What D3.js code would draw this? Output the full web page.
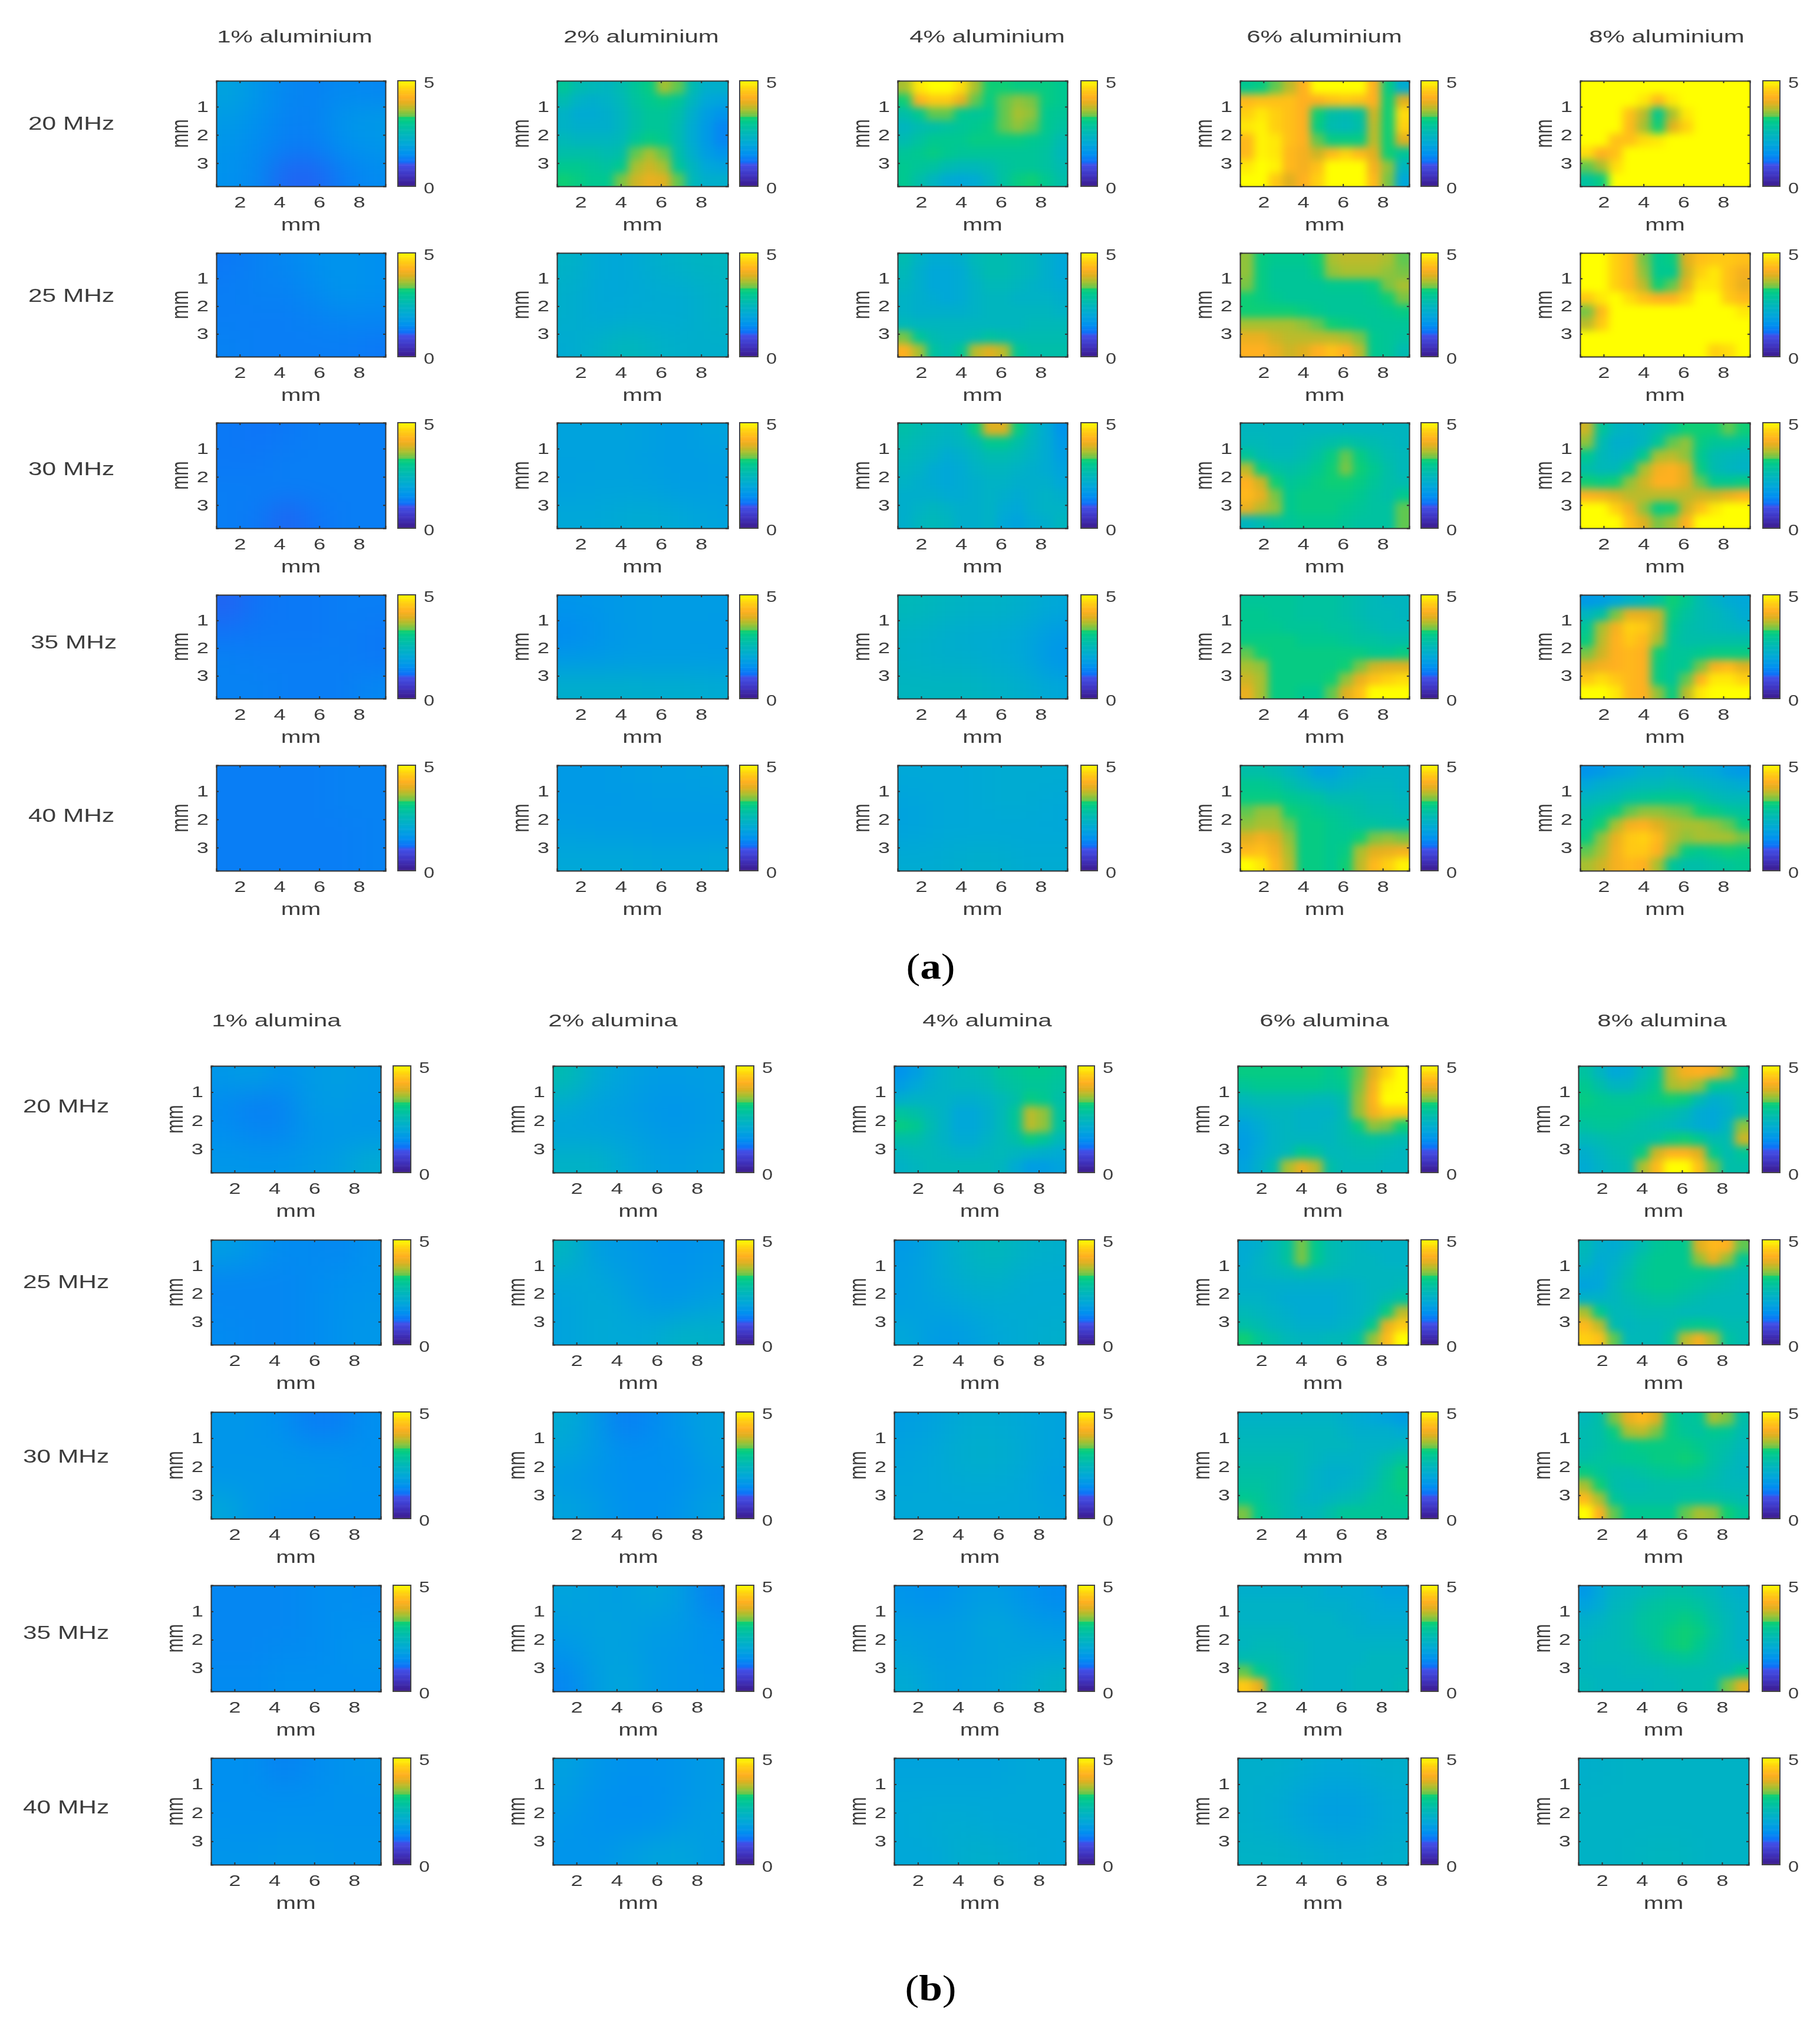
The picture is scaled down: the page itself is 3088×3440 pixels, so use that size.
<!DOCTYPE html>
<html>
<head>
<meta charset="utf-8">
<style>
  body { margin: 0; background: #fff; }
  text { font-family: "Liberation Sans", Arial, sans-serif; fill: #3c3c3c; }
</style>
<script src="https://cdn.jsdelivr.net/npm/d3@7"></script>
</head>
<body>
<div id="chart"></div>
<script>
// labels
var frequencies = ["20 MHz", "25 MHz", "30 MHz", "35 MHz", "40 MHz"];
var aluminiumTitles = ["1% aluminium", "2% aluminium", "4% aluminium", "6% aluminium", "8% aluminium"];
var aluminaTitles = ["1% alumina", "2% alumina", "4% alumina", "6% alumina", "8% alumina"];
var xTicks = [2, 4, 6, 8];
var yTicks = [1, 2, 3];
var barTicks = [0, 5];

// colour bar stops, values 0-5
var colourStops = [0, 0.5, 1.0, 1.15, 1.5, 2.0, 2.5, 3.0, 3.25, 3.3, 3.6, 3.9, 4.2, 4.6, 5];
var colourValues = ["#3b1a8c", "#3f33c0", "#4050e8", "#1070f8", "#0090f0", "#00a8d8", "#00b8b8", "#00c890",
  "#10d070", "#60c850", "#a8c030", "#e0b020", "#ffb020", "#ffd010", "#ffff00"];

// ---- aluminium ----
var al1_20 = [[1.9,1.6,1.4,1.35,1.45,1.4],[1.7,1.5,1.35,1.35,1.6,1.7],[1.6,1.45,1.3,1.3,1.5,1.6],[1.55,1.4,1.1,1.1,1.3,1.45]];
var al1_25 = [[1.25,1.35,1.4,1.5,1.6,1.5],[1.3,1.35,1.35,1.45,1.6,1.5],[1.3,1.3,1.3,1.35,1.4,1.4],[1.35,1.3,1.3,1.3,1.3,1.25]];
var al1_30 = [[1.25,1.2,1.25,1.3,1.3,1.3],[1.25,1.25,1.3,1.3,1.3,1.3],[1.3,1.3,1.3,1.3,1.3,1.3],[1.3,1.25,1.1,1.2,1.3,1.3]];
var al1_35 = [[1.1,1.2,1.25,1.25,1.3,1.3],[1.2,1.25,1.25,1.25,1.3,1.25],[1.35,1.3,1.3,1.3,1.3,1.25],[1.35,1.35,1.3,1.3,1.3,1.4]];
var al1_40 = [[1.3,1.3,1.3,1.3,1.35,1.35],[1.3,1.3,1.3,1.3,1.35,1.35],[1.3,1.3,1.3,1.3,1.3,1.35],[1.3,1.3,1.3,1.3,1.3,1.35]];

var al2_20 = [
  [2.9,2.6,2.5,2.4,2.6,2.9,3.1,3.6,3.3,2.6,2.2,2.2],
  [2.6,2.3,2.2,2.3,2.5,2.8,3.0,3.1,2.9,2.4,2.0,1.9],
  [2.3,2.1,2.1,2.2,2.4,2.7,2.9,2.9,2.7,2.2,1.8,1.6],
  [2.3,2.2,2.2,2.2,2.4,2.7,2.9,2.9,2.6,2.1,1.7,1.4],
  [2.5,2.4,2.4,2.4,2.5,2.9,3.1,3.0,2.6,2.1,1.7,1.4],
  [2.7,2.7,2.7,2.6,2.7,3.3,3.6,3.3,2.7,2.2,1.8,1.6],
  [3.0,3.0,2.9,2.8,3.0,3.6,3.8,3.6,2.9,2.4,2.0,1.9],
  [3.2,3.1,3.0,3.0,3.4,3.8,4.0,3.9,3.3,2.5,2.2,2.2]];
var al2_25 = [[2.3,2.0,2.0,2.2,2.3,2.4],[2.2,2.0,2.0,2.1,2.1,2.3],[2.2,2.0,2.1,2.1,2.1,2.3],[2.1,2.3,2.5,2.3,2.2,2.2]];
var al2_30 = [[1.9,1.9,1.9,1.8,1.75,1.9],[1.85,1.85,1.85,1.8,1.75,1.8],[1.85,1.9,1.9,1.85,1.75,1.8],[2.0,2.0,2.1,2.1,2.0,1.9]];
var al2_35 = [[1.6,1.65,1.7,1.75,1.75,1.75],[1.45,1.6,1.7,1.75,1.75,1.7],[1.7,1.7,1.75,1.75,1.75,1.75],[2.2,2.2,2.2,2.15,2.15,2.1]];
var al2_40 = [[1.7,1.7,1.75,1.8,1.8,1.85],[1.7,1.7,1.7,1.75,1.75,1.75],[1.8,1.75,1.75,1.7,1.7,1.7],[2.0,2.0,2.0,1.95,1.95,2.0]];

var al4_20 = [
  [3.6,4.8,5,5,4.7,3.6,3.2,3.2,3.1,3.1,3.1,3.0],
  [3.2,4.2,4.5,4.5,4.0,3.3,3.1,3.3,3.5,3.4,3.1,3.0],
  [2.7,3.0,3.3,3.3,3.0,2.9,3.0,3.3,3.6,3.5,3.0,2.9],
  [2.4,2.6,2.7,2.8,2.9,3.0,3.1,3.3,3.5,3.3,3.0,2.8],
  [2.6,2.8,3.0,3.0,3.0,3.1,3.1,3.1,3.1,3.0,2.9,2.6],
  [2.9,3.0,3.1,3.0,2.9,2.9,2.9,2.9,2.9,2.9,2.8,2.5],
  [3.0,2.9,2.8,2.6,2.5,2.5,2.6,2.8,2.9,2.9,2.8,2.6],
  [3.0,2.7,2.4,2.1,2.0,2.1,2.4,2.8,3.1,3.2,3.0,2.7]];
var al4_25 = [
  [2.6,2.3,2.1,2.1,2.2,2.5,2.6,2.6,2.5,2.4,2.2,2.0],
  [2.5,2.2,2.0,2.0,2.1,2.4,2.6,2.6,2.5,2.4,2.2,2.0],
  [2.4,2.2,2.0,2.0,2.1,2.3,2.5,2.5,2.4,2.3,2.2,2.1],
  [2.3,2.2,2.1,2.0,2.1,2.3,2.4,2.4,2.3,2.3,2.3,2.2],
  [2.3,2.2,2.2,2.2,2.2,2.3,2.4,2.4,2.4,2.4,2.4,2.3],
  [2.5,2.4,2.4,2.4,2.4,2.4,2.4,2.4,2.4,2.5,2.5,2.5],
  [3.4,2.9,2.6,2.5,2.5,2.6,2.8,2.7,2.6,2.6,2.6,2.6],
  [4.2,3.6,2.8,2.6,2.9,3.7,3.9,3.7,2.9,2.7,2.7,2.7]];
var al4_30 = [
  [2.7,2.6,2.5,2.4,2.5,3.1,3.9,3.9,3.1,2.5,2.1,1.6],
  [2.6,2.5,2.4,2.3,2.4,2.6,3.0,3.0,2.7,2.4,2.1,1.7],
  [2.5,2.4,2.3,2.1,2.2,2.4,2.6,2.6,2.5,2.3,2.1,1.8],
  [2.4,2.3,2.1,2.0,2.1,2.3,2.4,2.4,2.3,2.2,2.1,1.9],
  [2.3,2.2,2.1,2.0,2.1,2.2,2.3,2.3,2.2,2.2,2.2,2.0],
  [2.2,2.2,2.2,2.1,2.1,2.2,2.3,2.2,2.1,2.2,2.3,2.2],
  [2.2,2.3,2.4,2.3,2.2,2.2,2.3,2.1,2.0,2.2,2.3,2.3],
  [2.2,2.4,2.5,2.4,2.2,2.2,2.3,2.0,1.9,2.1,2.2,2.4]];
var al4_35 = [[2.5,2.4,2.3,2.3,2.2,2.0],[2.3,2.2,2.1,2.1,2.0,1.7],[2.3,2.2,2.2,2.1,2.0,1.6],[2.4,2.4,2.4,2.3,2.2,2.0]];
var al4_40 = [[2.0,2.0,2.0,2.1,2.1,2.1],[1.9,2.0,2.0,2.1,2.1,2.0],[1.9,2.0,2.0,2.0,2.0,2.0],[2.1,2.1,2.2,2.2,2.1,2.1]];

var al6_20 = [
  [3.0,3.1,3.3,3.7,4.2,5,5,5,5,4.2,3.1,2.1],
  [4.3,4.4,4.4,4.4,4.2,4.2,4.4,4.5,4.4,4.2,3.2,3.9],
  [4.6,4.8,4.6,4.4,4.2,3.2,2.7,2.6,2.8,3.8,3.2,4.7],
  [4.8,4.9,4.6,4.4,4.2,3.1,2.6,2.5,2.7,3.7,3.2,4.6],
  [4.3,4.9,4.8,4.4,4.2,3.3,3.1,3.1,3.1,3.7,3.2,3.9],
  [4.3,4.9,4.8,4.3,4.1,3.8,4.3,4.6,4.3,3.9,3.2,2.9],
  [4.8,5,4.9,4.3,4.1,4.4,5,5,5,4.1,3.5,2.4],
  [5,5,4.5,3.9,4.2,4.6,5,5,5,4.3,3.4,2.0]];
var al6_25 = [
  [3.5,3.1,3.0,3.0,3.0,3.2,3.6,3.7,3.7,3.7,3.6,3.3],
  [3.5,3.1,2.9,2.9,2.9,3.1,3.5,3.6,3.6,3.6,3.5,3.4],
  [3.4,3.1,2.9,2.9,2.9,2.9,3.0,3.0,3.0,3.1,3.4,3.6],
  [3.2,3.1,3.0,2.9,2.9,2.9,2.9,2.9,2.9,3.0,3.2,3.4],
  [3.2,3.2,3.2,3.2,3.1,3.0,2.9,2.9,2.9,2.9,3.0,3.1],
  [3.6,3.6,3.6,3.6,3.5,3.3,3.2,3.1,3.0,2.9,2.9,2.9],
  [4.0,4.0,3.8,3.7,3.7,3.7,3.7,3.6,3.4,3.0,2.9,2.8],
  [4.2,4.2,4.0,3.8,3.9,4.2,4.4,4.2,3.7,3.0,2.9,2.6]];
var al6_30 = [
  [2.4,2.4,2.4,2.4,2.4,2.4,2.4,2.4,2.4,2.4,2.4,2.4],
  [2.5,2.5,2.4,2.4,2.5,2.6,2.7,2.8,2.7,2.6,2.5,2.4],
  [2.9,2.6,2.5,2.5,2.6,2.8,3.1,3.3,3.1,2.8,2.6,2.5],
  [3.7,3.1,2.8,2.7,2.8,3.0,3.2,3.4,3.2,3.0,2.7,2.5],
  [4.2,3.8,3.2,2.9,3.0,3.1,3.2,3.2,3.1,2.9,2.7,2.6],
  [4.3,4.0,3.4,3.0,3.1,3.1,3.1,3.1,3.0,2.8,2.7,3.0],
  [4.0,3.7,3.5,3.0,3.1,3.1,3.1,3.0,2.9,2.8,2.8,3.3],
  [2.4,2.6,2.8,2.9,3.0,3.0,3.0,2.9,2.8,2.8,2.8,3.3]];
var al6_35 = [
  [2.9,2.9,2.9,2.9,2.8,2.8,2.8,2.7,2.6,2.5,2.4,2.4],
  [3.0,3.0,2.9,2.9,2.8,2.8,2.8,2.7,2.6,2.5,2.5,2.4],
  [3.0,3.0,3.0,2.9,2.9,2.9,2.8,2.8,2.7,2.6,2.5,2.5],
  [3.1,3.1,3.1,3.1,3.0,3.0,3.0,2.9,2.8,2.8,2.7,2.7],
  [3.3,3.2,3.1,3.1,3.1,3.1,3.1,3.1,3.1,3.0,3.0,3.1],
  [3.6,3.5,3.1,3.1,3.1,3.1,3.1,3.2,3.4,3.8,3.9,3.9],
  [3.8,3.6,3.1,3.1,3.1,3.1,3.2,3.5,4.0,4.4,4.6,4.7],
  [4.0,3.6,3.1,3.1,3.0,3.0,3.3,3.9,4.4,5,5,5]];
var al6_40 = [
  [2.7,2.7,2.6,2.4,2.2,1.9,1.9,2.1,2.2,2.3,2.3,2.3],
  [3.0,3.0,2.9,2.7,2.5,2.3,2.2,2.3,2.4,2.4,2.4,2.3],
  [3.1,3.1,3.1,3.0,2.9,2.8,2.6,2.6,2.6,2.5,2.5,2.4],
  [3.3,3.5,3.5,3.2,3.1,3.0,2.9,2.8,2.7,2.6,2.6,2.5],
  [3.5,3.6,3.6,3.3,3.1,3.1,3.0,2.9,2.8,2.8,2.7,2.7],
  [3.9,4.1,3.9,3.5,3.1,3.1,3.0,3.0,3.2,3.4,3.5,3.4],
  [4.3,4.4,4.1,3.6,3.1,3.1,3.0,3.1,3.6,3.9,4.0,4.1],
  [5,4.8,4.3,3.7,3.1,3.1,3.0,3.2,3.7,4.3,4.6,4.9]];

var al8_20 = [
  [5,5,5,5,5,5,5,5,5,5,5,5],
  [5,5,5,5,4.8,4.3,4.8,5,5,5,5,5],
  [5,5,5,4.4,3.7,3.0,3.6,4.8,5,5,5,5],
  [5,5,5,4.3,3.6,3.2,3.9,4.6,5,5,5,5],
  [5,5,4.4,4.4,4.7,4.8,5,5,5,5,5,5],
  [4.7,4.2,4.4,5,5,5,5,5,5,5,5,5],
  [3.3,3.6,4.7,5,5,5,5,5,5,5,5,5],
  [2.8,3.1,5,5,5,5,5,5,5,5,5,5]];
var al8_25 = [
  [5,5,4.6,4.3,3.4,3.0,3.1,3.9,4.4,4.5,4.5,4.4],
  [5,5,4.6,4.3,3.5,3.0,3.0,3.8,4.6,4.8,4.4,4.1],
  [5,5,4.6,4.3,3.7,3.2,3.3,4.0,4.8,4.8,4.4,4.0],
  [4.5,4.8,5,4.7,4.4,4.2,4.2,4.6,5,5,4.5,4.3],
  [3.4,4.3,5,5,5,5,5,5,5,5,5,4.8],
  [3.7,4.5,5,5,5,5,5,5,5,5,5,5],
  [5,5,5,5,5,5,5,5,5,5,5,5],
  [5,5,5,5,5,5,5,5,5,4.6,4.7,5]];
var al8_30 = [
  [3.8,2.9,2.4,2.3,2.4,2.6,2.9,3.2,3.2,3.2,3.3,3.2],
  [3.5,2.6,2.2,2.2,2.4,2.9,3.3,3.5,3.1,2.9,2.9,2.8],
  [3.0,2.5,2.3,2.4,3.0,3.6,3.7,3.5,3.0,2.6,2.5,2.4],
  [2.7,2.5,2.5,3.0,3.6,4.1,4.2,3.9,3.1,2.6,2.4,2.3],
  [3.2,3.1,3.2,3.5,3.8,4.2,4.2,3.9,3.3,3.0,3.0,3.1],
  [4.2,4.1,3.9,3.7,3.7,3.7,3.7,3.7,3.8,3.8,4.0,4.2],
  [5,5,4.6,4.1,3.5,3.1,3.2,3.8,4.4,4.8,5,5],
  [5,5,5,4.4,3.9,3.4,3.6,4.2,5,5,5,5]];
var al8_35 = [
  [1.7,1.8,2.0,2.3,2.5,2.8,3.2,3.0,2.6,2.3,2.1,2.0],
  [2.4,2.7,3.4,4.0,4.0,3.8,3.1,2.8,2.6,2.5,2.3,2.1],
  [2.9,3.6,4.1,4.6,4.5,3.8,3.0,2.7,2.6,2.5,2.4,2.3],
  [3.1,3.7,4.2,4.5,4.3,3.6,2.9,2.7,2.7,2.7,2.7,2.7],
  [3.4,3.8,4.2,4.3,4.2,3.2,2.9,2.9,3.0,3.1,3.1,3.1],
  [3.9,4.1,4.2,4.3,4.2,3.1,2.9,3.0,3.4,4.1,4.3,3.9],
  [4.5,4.7,4.5,4.3,4.2,3.1,2.9,3.3,4.2,4.8,4.8,4.6],
  [5,5,4.8,4.3,4.2,3.5,3.1,3.7,4.8,5,5,5]];
var al8_40 = [
  [1.6,1.7,1.9,2.0,2.2,2.2,2.3,2.2,2.1,2.0,1.8,1.7],
  [2.0,2.2,2.3,2.4,2.5,2.5,2.6,2.5,2.4,2.3,2.2,2.1],
  [2.4,2.5,2.6,2.8,2.9,3.0,3.0,3.0,2.8,2.6,2.5,2.5],
  [2.7,2.9,3.1,3.3,3.5,3.5,3.4,3.3,3.2,3.1,2.9,2.8],
  [2.9,3.2,3.6,4.1,4.2,3.9,3.7,3.6,3.6,3.5,3.3,3.1],
  [3.1,3.5,4.0,4.5,4.6,4.3,3.7,3.5,3.6,3.6,3.6,3.4],
  [3.3,3.6,4.1,4.5,4.5,4.2,3.5,3.1,3.0,3.1,3.2,3.1],
  [3.6,3.8,4.1,4.3,4.2,3.6,2.9,2.7,2.7,2.8,2.9,3.0]];

// ---- alumina ----
var alu1_20 = [[1.65,1.8,1.55,1.7,1.8,1.7],[1.45,1.3,1.35,1.7,1.75,1.65],[1.5,1.4,1.4,1.6,1.65,1.65],[1.65,1.6,1.6,1.7,1.8,2.1]];
var alu1_25 = [[1.8,1.6,1.45,1.45,1.4,1.55],[1.4,1.4,1.4,1.45,1.5,1.55],[1.4,1.4,1.4,1.45,1.55,1.6],[1.45,1.4,1.4,1.45,1.55,1.65]];
var alu1_30 = [[1.65,1.6,1.5,1.3,1.3,1.5],[1.6,1.6,1.6,1.55,1.55,1.5],[1.65,1.65,1.65,1.65,1.6,1.5],[1.95,1.65,1.55,1.5,1.5,1.5]];
var alu1_35 = [[1.4,1.4,1.4,1.45,1.5,1.45],[1.4,1.4,1.4,1.45,1.5,1.5],[1.4,1.4,1.45,1.45,1.5,1.6],[1.45,1.45,1.5,1.5,1.5,1.5]];
var alu1_40 = [[1.5,1.5,1.35,1.45,1.55,1.6],[1.5,1.5,1.5,1.5,1.55,1.55],[1.55,1.5,1.55,1.55,1.55,1.55],[1.6,1.6,1.65,1.65,1.6,1.6]];

var alu2_20 = [[2.6,2.1,1.9,1.75,1.75,1.8],[2.1,1.85,1.8,1.65,1.6,1.75],[1.9,1.9,1.85,1.75,1.65,1.8],[2.3,2.3,2.05,1.85,1.8,1.9]];
var alu2_25 = [[2.4,1.8,1.7,1.6,1.55,1.65],[2.0,2.0,1.8,1.65,1.6,1.7],[1.9,2.05,1.95,1.7,1.7,1.9],[1.9,2.05,2.0,2.05,2.3,2.25]];
var alu2_30 = [[2.1,1.7,1.3,1.45,1.65,1.85],[1.95,1.7,1.5,1.5,1.55,1.85],[1.7,1.6,1.5,1.5,1.5,1.7],[1.9,1.75,1.55,1.5,1.6,1.85]];
var alu2_35 = [[1.9,1.85,1.8,1.95,1.8,1.35],[1.8,1.85,1.85,1.75,1.7,1.55],[1.6,1.85,1.85,1.7,1.65,1.55],[1.4,1.8,1.95,1.7,1.65,1.6]];
var alu2_40 = [[1.85,1.65,1.55,1.55,1.6,1.75],[1.75,1.55,1.5,1.5,1.6,1.75],[1.65,1.55,1.5,1.55,1.7,1.8],[1.6,1.6,1.75,1.9,1.95,1.75]];

var alu4_20 = [
  [1.6,1.8,2.1,2.3,2.4,2.5,2.6,2.8,2.9,3.0,3.0,2.9],
  [1.8,2.0,2.2,2.3,2.4,2.4,2.5,2.7,2.8,2.9,2.9,2.8],
  [2.2,2.3,2.3,2.3,2.2,2.2,2.3,2.5,2.7,3.1,3.0,2.7],
  [2.8,2.7,2.5,2.3,2.0,2.0,2.2,2.5,2.9,3.7,3.5,2.8],
  [3.1,3.0,2.6,2.3,2.0,2.0,2.2,2.5,2.9,3.7,3.5,2.8],
  [2.7,2.7,2.5,2.3,2.1,2.1,2.3,2.5,2.7,3.1,2.9,2.5],
  [2.4,2.5,2.5,2.4,2.3,2.3,2.4,2.5,2.4,2.3,2.2,2.1],
  [2.3,2.4,2.5,2.5,2.5,2.5,2.5,2.4,2.1,1.8,1.8,1.9]];
var alu4_25 = [[1.7,2.0,2.3,2.5,2.3,2.2],[1.8,2.0,2.2,2.3,2.1,2.1],[1.8,1.9,2.0,2.1,2.1,2.1],[2.0,1.7,1.8,2.0,2.1,2.2]];
var alu4_30 = [[1.8,1.9,2.1,2.1,2.0,1.9],[1.9,2.0,2.2,2.2,2.1,1.9],[1.95,2.0,2.1,2.1,2.0,1.8],[2.0,2.0,2.0,2.0,2.0,1.9]];
var alu4_35 = [[1.6,1.5,1.7,1.8,1.6,1.45],[1.8,1.75,1.8,2.0,1.8,1.7],[1.9,1.75,1.8,1.9,1.9,1.9],[2.1,1.85,1.85,1.95,2.05,2.3]];
var alu4_40 = [[1.9,1.9,1.9,1.9,2.0,2.0],[2.0,2.0,2.0,2.0,2.0,2.0],[2.0,2.1,2.1,2.0,2.0,2.0],[2.0,2.0,2.2,2.2,2.1,2.0]];

var alu6_20 = [
  [3.1,3.1,3.1,3.1,3.1,3.1,3.0,3.1,3.3,3.9,4.6,5],
  [2.9,3.0,3.0,3.0,3.0,3.0,2.9,3.0,3.4,4.1,4.9,5],
  [2.5,2.6,2.6,2.6,2.6,2.5,2.5,2.7,3.5,4.2,5,5],
  [2.2,2.3,2.4,2.4,2.3,2.3,2.3,2.6,3.5,4.1,4.5,4.5],
  [1.9,2.1,2.3,2.4,2.3,2.3,2.4,2.6,3.1,3.5,3.4,3.2],
  [1.8,2.0,2.3,2.4,2.4,2.4,2.4,2.6,2.7,2.8,2.7,2.6],
  [1.8,2.1,2.3,2.5,3.0,2.8,2.5,2.5,2.6,2.6,2.5,2.4],
  [1.9,2.2,2.6,3.6,4.0,3.7,2.7,2.5,2.5,2.5,2.4,2.4]];
var alu6_25 = [
  [2.1,2.2,2.5,2.8,3.4,3.0,2.6,2.5,2.4,2.3,2.3,2.3],
  [2.1,2.3,2.5,2.8,3.4,3.0,2.6,2.5,2.4,2.4,2.3,2.3],
  [2.2,2.3,2.4,2.5,2.6,2.5,2.5,2.4,2.4,2.4,2.4,2.4],
  [2.2,2.2,2.2,2.2,2.2,2.2,2.2,2.2,2.3,2.4,2.4,2.5],
  [2.3,2.3,2.2,2.1,2.1,2.1,2.1,2.2,2.3,2.4,2.6,2.8],
  [2.5,2.4,2.3,2.2,2.1,2.1,2.1,2.2,2.3,2.5,3.1,3.7],
  [2.7,2.6,2.4,2.3,2.2,2.2,2.2,2.3,2.4,3.0,4.0,4.5],
  [3.2,2.9,2.7,2.5,2.4,2.4,2.5,2.5,2.8,3.5,4.3,5]];
var alu6_30 = [
  [2.3,2.3,2.3,2.3,2.3,2.3,2.3,2.2,2.1,2.0,1.9,1.8],
  [2.4,2.4,2.4,2.4,2.4,2.4,2.4,2.3,2.2,2.2,2.2,2.1],
  [2.5,2.5,2.5,2.5,2.5,2.4,2.4,2.4,2.3,2.3,2.3,2.4],
  [2.6,2.6,2.6,2.6,2.5,2.4,2.3,2.3,2.3,2.4,2.6,2.8],
  [2.7,2.7,2.7,2.6,2.5,2.3,2.2,2.2,2.3,2.5,2.8,3.1],
  [2.8,2.8,2.7,2.6,2.5,2.3,2.2,2.3,2.4,2.6,2.9,3.1],
  [3.0,2.9,2.7,2.6,2.4,2.3,2.4,2.5,2.6,2.8,2.9,3.0],
  [3.4,3.0,2.8,2.6,2.5,2.5,2.7,2.9,2.9,2.9,2.9,2.9]];
var alu6_35 = [
  [2.2,2.2,2.2,2.2,2.2,2.2,2.1,2.1,2.1,2.0,1.9,1.9],
  [2.3,2.3,2.3,2.3,2.3,2.2,2.2,2.2,2.1,2.1,2.0,2.0],
  [2.3,2.3,2.3,2.3,2.3,2.3,2.3,2.2,2.2,2.1,2.1,2.1],
  [2.4,2.4,2.4,2.4,2.3,2.3,2.3,2.3,2.2,2.2,2.2,2.2],
  [2.4,2.5,2.5,2.4,2.4,2.3,2.3,2.3,2.3,2.3,2.3,2.3],
  [2.6,2.6,2.6,2.5,2.4,2.3,2.3,2.3,2.3,2.4,2.4,2.4],
  [3.3,3.0,2.7,2.5,2.4,2.3,2.3,2.3,2.4,2.4,2.4,2.4],
  [4.5,4.0,2.9,2.6,2.4,2.3,2.3,2.3,2.4,2.4,2.4,2.5]];
var alu6_40 = [[2.2,2.2,2.1,2.0,2.1,2.2],[2.2,2.1,1.9,1.8,1.9,2.1],[2.2,2.1,1.9,1.8,1.9,2.1],[2.3,2.3,2.2,2.1,2.1,2.2]];

var alu8_20 = [
  [2.8,2.4,2.0,2.1,2.5,2.8,3.7,4.1,4.2,4.1,3.6,3.0],
  [3.0,2.7,2.4,2.4,2.7,3.0,3.6,3.7,3.5,3.0,2.8,2.8],
  [3.1,3.0,2.9,2.9,3.0,3.1,3.2,3.1,2.6,2.2,2.3,2.6],
  [3.0,3.0,3.0,3.0,2.9,2.8,2.7,2.5,2.1,2.0,2.2,2.6],
  [2.8,2.9,2.9,2.8,2.7,2.6,2.5,2.3,2.1,2.0,2.4,3.5],
  [2.5,2.6,2.7,2.7,2.7,2.8,3.1,3.2,3.0,2.6,2.6,3.8],
  [2.2,2.4,2.6,2.7,3.1,3.8,4.2,4.2,3.9,3.0,2.6,2.9],
  [2.1,2.3,2.5,2.6,3.6,4.3,5,5,4.4,3.4,2.7,2.7]];
var alu8_25 = [
  [2.5,2.2,2.1,2.3,2.6,2.9,3.0,3.0,3.9,4.3,4.2,3.3],
  [2.4,2.1,2.2,2.5,2.8,3.0,3.0,3.0,3.5,4.0,3.5,2.9],
  [2.1,2.0,2.3,2.6,2.9,3.0,3.0,3.0,3.0,2.9,2.7,2.6],
  [1.9,2.0,2.4,2.7,2.9,3.0,3.0,2.9,2.8,2.7,2.6,2.5],
  [2.3,2.3,2.4,2.6,2.7,2.8,2.8,2.7,2.6,2.5,2.5,2.5],
  [3.6,3.0,2.5,2.5,2.6,2.6,2.6,2.5,2.5,2.5,2.5,2.5],
  [4.3,3.7,2.6,2.4,2.5,2.5,2.6,2.9,3.0,2.9,2.6,2.6],
  [4.6,4.4,3.3,2.5,2.5,2.5,2.8,3.7,4.1,3.6,2.8,2.6]];
var alu8_30 = [
  [2.5,2.7,3.4,4.0,4.3,3.9,3.1,2.8,2.9,3.6,3.4,2.7],
  [2.6,2.7,3.1,3.6,3.7,3.4,3.1,2.9,2.8,3.0,2.9,2.6],
  [2.6,2.7,2.9,3.0,3.1,3.1,3.1,3.1,3.0,2.8,2.7,2.5],
  [2.7,2.8,2.9,3.0,3.0,3.1,3.1,3.2,3.1,2.8,2.6,2.4],
  [3.1,2.9,2.7,2.7,2.8,2.9,3.0,3.0,2.9,2.7,2.5,2.4],
  [3.6,3.2,2.7,2.6,2.6,2.7,2.7,2.7,2.7,2.6,2.5,2.5],
  [4.3,3.6,2.9,2.7,2.7,2.7,2.7,2.8,2.8,2.8,2.7,2.6],
  [5,4.2,3.3,3.0,3.0,3.0,3.0,3.3,3.6,3.5,3.2,2.9]];
var alu8_35 = [
  [1.7,2.0,2.3,2.4,2.5,2.6,2.7,2.7,2.6,2.5,2.3,2.2],
  [1.9,2.1,2.4,2.5,2.7,2.8,2.9,2.9,2.8,2.6,2.4,2.3],
  [2.2,2.3,2.5,2.6,2.8,2.9,3.0,3.1,3.0,2.7,2.5,2.3],
  [2.3,2.4,2.5,2.6,2.8,2.9,3.1,3.2,3.1,2.8,2.5,2.3],
  [2.4,2.5,2.5,2.6,2.7,2.9,3.1,3.2,3.0,2.7,2.5,2.3],
  [2.4,2.5,2.5,2.5,2.6,2.7,2.8,2.9,2.8,2.6,2.5,2.4],
  [2.4,2.4,2.4,2.5,2.5,2.5,2.6,2.6,2.6,2.6,2.6,3.0],
  [2.5,2.4,2.4,2.4,2.4,2.5,2.5,2.6,2.6,2.7,3.4,3.9]];
var alu8_40 = [[2.2,2.3,2.3,2.3,2.3,2.3],[2.3,2.3,2.3,2.3,2.3,2.3],[2.3,2.3,2.3,2.3,2.3,2.3],[2.3,2.3,2.4,2.4,2.3,2.3]];

// rows of panels, one entry per concentration
var aluminiumPanels = [
  [al1_20, al2_20, al4_20, al6_20, al8_20],
  [al1_25, al2_25, al4_25, al6_25, al8_25],
  [al1_30, al2_30, al4_30, al6_30, al8_30],
  [al1_35, al2_35, al4_35, al6_35, al8_35],
  [al1_40, al2_40, al4_40, al6_40, al8_40]
];
var aluminaPanels = [
  [alu1_20, alu2_20, alu4_20, alu6_20, alu8_20],
  [alu1_25, alu2_25, alu4_25, alu6_25, alu8_25],
  [alu1_30, alu2_30, alu4_30, alu6_30, alu8_30],
  [alu1_35, alu2_35, alu4_35, alu6_35, alu8_35],
  [alu1_40, alu2_40, alu4_40, alu6_40, alu8_40]
];

var page = d3.select("#chart").append("svg")
  .attr("width", 3088)
  .attr("height", 3440);
page.append("rect").attr("width", 3088).attr("height", 3440).attr("fill", "#fff");

var defs = page.append("defs");
// the source is a resampled bitmap, everything in it is a little soft
defs.append("filter").attr("id", "figureSoft")
  .attr("filterUnits", "userSpaceOnUse")
  .attr("x", 0).attr("y", 0).attr("width", 3088).attr("height", 3440)
  .attr("color-interpolation-filters", "sRGB")
  .append("feGaussianBlur").attr("stdDeviation", 0.7);
var svg = page.append("g").attr("filter", "url(#figureSoft)");

var colour = d3.scaleLinear().domain(colourStops).range(colourValues).clamp(true);
var stretch = 1.4;  // the source figure is pulled wide, text too
var idCount = 0;

function placeText(parent, str, x, y, size, sx, rotate) {
  return parent.append("text")
    .attr("transform", `translate(${x},${y}) scale(${sx},1)` + (rotate ? " rotate(-90)" : ""))
    .attr("text-anchor", "middle")
    .attr("font-size", size)
    .text(str);
}

function drawPanel(values, x0, x1, y0, y1, bar0, bar1) {
  var g = svg.append("g");
  var rows = values.length;
  var cols = values[0].length;
  var xBand = d3.scaleBand().domain(d3.range(cols)).range([x0, x1]);
  var yBand = d3.scaleBand().domain(d3.range(rows)).range([y0, y1]);
  var xScale = d3.scaleLinear().domain([0.82, 9.33]).range([x0, x1]);
  var yScale = d3.scaleLinear().domain([0.08, 3.82]).range([y0, y1]);
  var whole = d3.format("d");

  // soften the cells, outer ones run past the frame so the blur has no white edge
  var id = idCount++;
  var share = cols > 6 ? 0.3 : 0.5;
  var bleed = 100;
  defs.append("clipPath").attr("id", "clip" + id)
    .append("rect").attr("x", x0).attr("y", y0).attr("width", x1 - x0).attr("height", y1 - y0);
  defs.append("filter").attr("id", "soft" + id)
    .attr("filterUnits", "userSpaceOnUse")
    .attr("x", x0 - bleed).attr("y", y0 - bleed)
    .attr("width", x1 - x0 + 2 * bleed).attr("height", y1 - y0 + 2 * bleed)
    .attr("color-interpolation-filters", "sRGB")
    .append("feGaussianBlur")
    .attr("stdDeviation", `${xBand.bandwidth() * share} ${yBand.bandwidth() * share}`);

  var cells = g.append("g").attr("clip-path", `url(#clip${id})`)
    .append("g").attr("filter", `url(#soft${id})`);
  values.forEach(function(row, i) {
    row.forEach(function(v, j) {
      var cx = xBand(j) - (j === 0 ? bleed : 0);
      var cy = yBand(i) - (i === 0 ? bleed : 0);
      var cw = xBand.bandwidth() + (j === 0 || j === cols - 1 ? bleed : 0) + 1;
      var ch = yBand.bandwidth() + (i === 0 || i === rows - 1 ? bleed : 0) + 1;
      cells.append("rect")
        .attr("x", cx).attr("y", cy).attr("width", cw).attr("height", ch)
        .attr("fill", colour(v));
    });
  });

  // axes, box on like the original
  var bottom = g.append("g").attr("transform", `translate(0,${y1})`)
    .call(d3.axisBottom(xScale).tickValues(xTicks).tickSize(-4).tickFormat(whole));
  var left = g.append("g").attr("transform", `translate(${x0},0)`)
    .call(d3.axisLeft(yScale).tickValues(yTicks).tickSize(-4).tickFormat(whole));
  g.append("g").attr("transform", `translate(0,${y0})`)
    .call(d3.axisTop(xScale).tickValues(xTicks).tickSize(-4).tickFormat(""));
  g.append("g").attr("transform", `translate(${x1},0)`)
    .call(d3.axisRight(yScale).tickValues(yTicks).tickSize(-4).tickFormat(""));
  g.selectAll(".domain").attr("stroke", "#333").attr("stroke-width", 2);
  g.selectAll(".tick line").attr("stroke", "#333").attr("stroke-width", 2);

  bottom.selectAll("text")
    .attr("y", 36).attr("dy", 0)
    .attr("font-size", 26)
    .attr("transform", `scale(${stretch},1)`);
  left.selectAll("text")
    .attr("x", -13 / stretch)
    .attr("font-size", 26)
    .attr("transform", `scale(${stretch},1)`);

  placeText(g, "mm", (x0 + x1) / 2, y1 + 75, 29, stretch, false);
  placeText(g, "mm", x0 - 48, (y0 + y1) / 2, 29, stretch, true);

  // colour bar
  var barScale = d3.scaleLinear().domain([0, 5]).range([y1, y0]);
  var steps = d3.range(0, 5, 0.05);
  var bar = g.append("g");
  bar.selectAll("rect").data(steps).enter().append("rect")
    .attr("x", bar0)
    .attr("width", bar1 - bar0)
    .attr("y", d => barScale(d + 0.05))
    .attr("height", d => barScale(d) - barScale(d + 0.05) + 0.5)
    .attr("fill", d => colour(d));
  bar.append("rect")
    .attr("x", bar0).attr("y", y0).attr("width", bar1 - bar0).attr("height", y1 - y0)
    .attr("fill", "none").attr("stroke", "#444").attr("stroke-width", 2);
  var barAxis = g.append("g").attr("transform", `translate(${bar1},0)`)
    .call(d3.axisRight(barScale).tickValues(barTicks).tickSize(0).tickFormat(whole));
  barAxis.select(".domain").remove();
  barAxis.selectAll("text")
    .attr("x", 14 / 1.25).attr("y", 3)
    .attr("font-size", 26)
    .attr("transform", "scale(1.25,1)");
}

function drawFigure(panels, titles, cols, rows, titleX, titleY, rowLabelX, rowLabelY) {
  panels.forEach(function(row, r) {
    row.forEach(function(values, c) {
      drawPanel(values, cols[c][0], cols[c][1], rows[r][0], rows[r][1], cols[c][2], cols[c][3]);
    });
  });
  titles.forEach(function(t, c) {
    placeText(svg, t, titleX[c], titleY, 30, stretch, false);
  });
  frequencies.forEach(function(f, r) {
    placeText(svg, f, rowLabelX[r], rowLabelY[r], 31, 1.37, false);
  });
}

// layout: plot left, plot right, bar left, bar right
drawFigure(aluminiumPanels, aluminiumTitles,
  [[367, 654, 675, 705], [945, 1235, 1255, 1286], [1523, 1811, 1834, 1862], [2104, 2391, 2411, 2440], [2681, 2969, 2991, 3020]],
  [[137, 316], [429, 605], [717, 896], [1009, 1185], [1298, 1477]],
  [500, 1088, 1675, 2247, 2828], 72,
  [121, 121, 121, 125, 121], [220, 512, 806, 1100, 1394]);

drawFigure(aluminaPanels, aluminaTitles,
  [[358, 646, 667, 697], [938, 1228, 1249, 1279], [1517, 1808, 1829, 1857], [2100, 2389, 2411, 2440], [2678, 2967, 2990, 3020]],
  [[1808, 1989], [2103, 2281], [2395, 2576], [2689, 2869], [2982, 3163]],
  [469, 1040, 1675, 2247, 2820], 1741,
  [112, 112, 112, 112, 112], [1887, 2185, 2481, 2780, 3076]);

// captions, bold letter between plain brackets
[["a", 1579, 1660], ["b", 1579, 3393]].forEach(function(c) {
  var t = svg.append("text")
    .attr("transform", `translate(${c[1]},${c[2]}) scale(1.15,1)`)
    .attr("text-anchor", "middle")
    .style("font-family", '"Liberation Serif", serif')
    .style("fill", "#000")
    .attr("font-size", 62);
  t.append("tspan").text("(");
  t.append("tspan").attr("font-weight", "bold").text(c[0]);
  t.append("tspan").text(")");
});
</script>
</body>
</html>
